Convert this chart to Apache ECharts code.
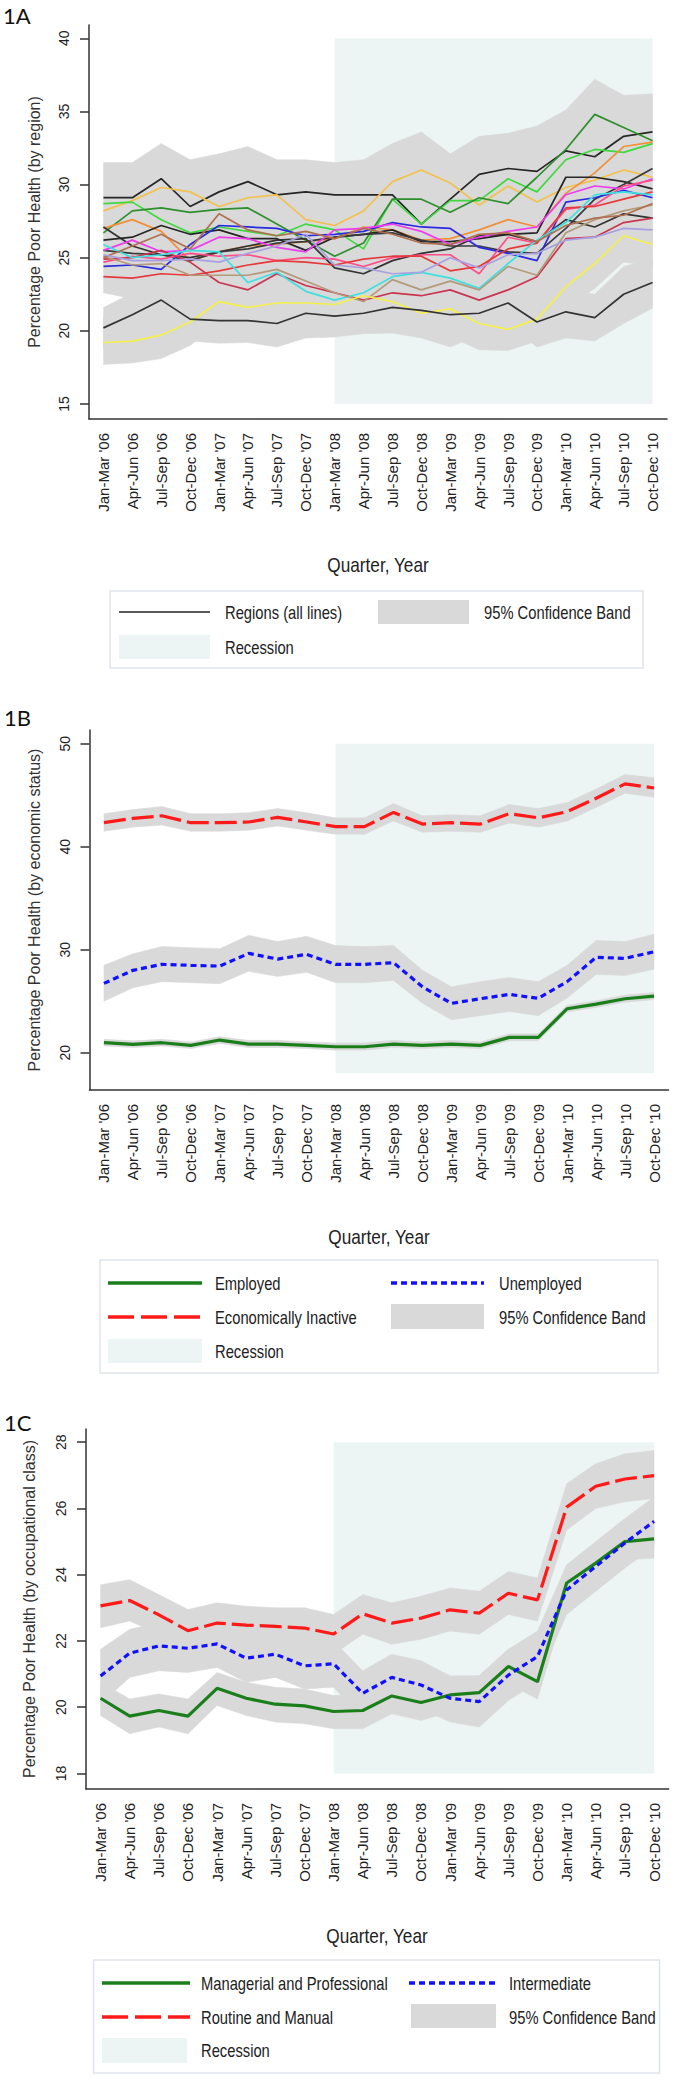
<!DOCTYPE html>
<html>
<head>
<meta charset="utf-8">
<script src="https://cdn.jsdelivr.net/npm/echarts@6/dist/echarts.min.js"></script>
<style>
html,body{margin:0;padding:0;background:#fff;}
#chart{width:679px;height:2081px;}
</style>
</head>
<body>
<div id="chart"></div>
<script>
// ---------- data ----------
const categories = ["Jan-Mar '06","Apr-Jun '06","Jul-Sep '06","Oct-Dec '06","Jan-Mar '07","Apr-Jun '07","Jul-Sep '07","Oct-Dec '07","Jan-Mar '08","Apr-Jun '08","Jul-Sep '08","Oct-Dec '08","Jan-Mar '09","Apr-Jun '09","Jul-Sep '09","Oct-Dec '09","Jan-Mar '10","Apr-Jun '10","Jul-Sep '10","Oct-Dec '10"];
const recessionStart = "Jan-Mar '08";
const recessionEnd = "Oct-Dec '10";

const ticksA = [15,20,25,30,35,40];
const ticksB = [20,30,40,50];
const ticksC = [18,20,22,24,26,28];

// 1A region lines
const regBlackTop   = [29.1,29.1,30.4,28.5,29.5,30.2,29.3,29.5,29.3,29.3,29.3,27.3,29.0,30.7,31.1,30.9,32.3,31.9,33.3,33.6];
const regGold       = [28.2,28.9,29.8,29.5,28.5,29.1,29.3,27.6,27.2,28.2,30.2,31.0,30.1,28.6,29.9,28.8,29.8,30.3,31.0,30.5];
const regLime       = [28.7,28.8,27.6,26.7,27.1,26.8,26.5,27.3,26.9,25.6,29.0,27.3,28.9,28.9,30.4,29.5,31.7,32.4,32.2,32.8];
const regDarkGreen  = [26.7,28.2,28.4,28.1,28.3,28.4,27.3,26.2,25.1,26.0,29.0,29.0,28.1,29.1,28.7,30.5,32.4,34.8,33.9,33.0];
const regOrange     = [27.0,27.6,26.8,24.8,25.4,25.8,25.9,26.1,26.3,27.1,26.9,26.2,26.3,26.9,27.6,27.1,29.4,30.8,32.6,32.9];
const regBlackB     = [27.1,25.8,25.2,25.0,25.4,25.8,26.2,26.3,24.3,23.9,24.8,25.3,25.6,26.5,26.6,26.1,27.6,27.1,28.0,27.7];
const regBlackC     = [26.2,26.4,27.2,26.6,26.9,26.3,26.3,25.5,26.4,26.6,26.9,26.1,26.1,26.3,26.6,26.7,30.5,30.5,30.2,29.7];
const regBlackE     = [25.5,25.3,25.2,24.8,25.4,25.6,26.0,26.1,26.4,26.6,26.7,26.2,25.8,25.8,25.4,25.3,27.0,29.0,30.0,31.1];
const regBlue       = [24.4,24.5,24.2,25.9,27.2,27.1,27.0,26.5,26.6,26.8,27.4,27.1,27.0,25.7,25.3,24.8,28.8,29.1,29.6,29.1];
const regMagenta    = [25.5,26.2,25.4,25.5,26.4,26.3,25.7,25.4,26.9,27.0,27.3,26.8,25.9,26.4,26.8,27.1,29.3,29.9,29.7,30.4];
const regPink       = [24.7,25.1,24.9,25.3,25.1,25.2,24.8,25.0,24.9,24.4,25.0,25.2,25.2,23.9,26.4,26.0,28.3,28.6,29.9,30.3];
const regRed        = [23.7,23.6,23.9,23.8,24.1,24.5,24.8,24.7,24.5,24.9,25.1,25.1,24.1,24.4,25.6,26.0,28.4,28.5,29.0,29.5];
const regCrimson    = [24.9,25.0,25.5,24.7,23.3,22.8,23.9,23.1,22.6,22.1,22.6,22.4,22.8,22.1,22.8,23.7,26.3,26.4,27.4,27.7];
const regCyan       = [25.9,25.0,25.2,25.5,25.4,23.3,24.0,22.7,22.1,22.6,23.7,24.0,23.6,22.9,24.6,26.2,27.4,29.3,29.5,29.3];
const regTan        = [25.1,24.5,24.6,23.8,23.8,23.8,24.2,23.4,22.6,22.0,23.5,22.8,23.4,22.8,24.4,23.8,26.7,27.6,28.2,28.6];
const regSienna     = [25.0,25.8,26.6,25.6,28.0,26.9,26.5,26.8,26.3,27.0,26.6,26.0,25.9,26.6,26.7,26.1,27.2,27.7,27.9,28.7];
const regLavender   = [25.2,24.8,24.8,24.9,24.7,25.3,25.8,26.6,24.5,24.3,23.9,24.0,25.0,24.3,25.2,25.3,26.2,26.4,27.0,26.9];
const regYellow     = [19.2,19.3,19.7,20.6,22.0,21.6,21.9,21.9,21.8,22.4,22.0,21.2,21.5,20.5,20.1,20.8,23.0,24.6,26.5,25.9];
const regBlackLow   = [20.2,21.1,22.1,20.8,20.7,20.7,20.5,21.2,21.0,21.2,21.6,21.4,21.1,21.2,21.9,20.6,21.3,20.9,22.5,23.3];

// 1A confidence bands (main cluster, yellow region, lowest black region)
const bandMainUpper = [31.5,31.5,32.8,31.7,32.1,32.6,31.7,31.7,31.5,31.7,32.8,33.6,32.1,33.3,33.5,34.0,35.1,37.2,36.1,36.2];
const bandMainLower = [22.6,22.2,22.2,22.3,21.8,21.4,22.2,21.3,20.7,20.6,21.2,21.0,21.3,20.7,21.3,22.0,24.0,24.9,25.8,26.0];
const bandYelUpper  = [20.9,21.0,21.4,22.2,23.5,23.1,23.4,23.4,23.3,23.9,23.5,22.7,23.0,22.0,21.6,22.3,24.5,26.1,28.0,27.4];
const bandYelLower  = [17.7,17.8,18.1,19.0,20.5,20.1,20.4,20.4,20.3,20.9,20.5,19.7,19.6,18.7,18.65,19.3,21.6,22.9,24.7,24.4];
const bandBlkUpper  = [21.6,22.6,23.7,22.3,22.2,22.2,22.0,22.7,22.5,22.7,23.1,22.9,22.6,22.7,23.4,22.1,22.9,22.5,24.4,24.9];
const bandBlkLower  = [18.8,19.6,20.5,19.3,19.15,19.2,18.9,19.5,19.57,19.8,19.85,19.5,18.9,19.7,20.4,18.9,19.5,19.3,20.5,21.55];

// 1B economic status
const employed      = [20.97,20.81,20.97,20.71,21.23,20.84,20.84,20.71,20.58,20.58,20.84,20.71,20.84,20.71,21.49,21.49,24.27,24.72,25.24,25.5];
const employedUp    = [21.3,21.15,21.3,21.05,21.55,21.2,21.2,21.05,20.95,20.95,21.2,21.05,21.2,21.05,21.85,21.85,24.6,25.05,25.6,25.85];
const employedLo    = [20.65,20.5,20.65,20.4,20.9,20.5,20.5,20.4,20.25,20.25,20.5,20.4,20.5,20.4,21.15,21.15,23.95,24.4,24.9,25.15];
const unemployed    = [26.73,28.0,28.58,28.48,28.41,29.64,29.09,29.55,28.58,28.58,28.74,26.4,24.79,25.24,25.66,25.28,26.9,29.26,29.16,29.8];
const unemployedUp  = [28.5,29.6,30.3,30.2,30.1,31.4,30.8,31.3,30.4,30.3,30.4,28.0,26.4,26.9,27.3,26.9,28.5,30.9,30.8,31.5];
const unemployedLo  = [25.0,26.3,26.9,26.8,26.7,27.9,27.4,27.8,26.8,26.8,27.0,24.8,23.2,23.6,24.0,23.6,25.3,27.6,27.5,28.1];
const inactive      = [42.33,42.75,43.0,42.33,42.33,42.4,42.85,42.4,41.95,41.95,43.33,42.2,42.33,42.2,43.2,42.8,43.4,44.7,46.1,45.7];
const inactiveUp    = [43.2,43.6,43.9,43.2,43.2,43.3,43.7,43.3,42.8,42.8,44.2,43.0,43.1,43.0,44.1,43.7,44.3,45.6,47.0,46.7];
const inactiveLo    = [41.5,41.9,42.1,41.5,41.5,41.6,42.0,41.6,41.2,41.2,42.5,41.4,41.5,41.4,42.3,41.9,42.5,43.8,45.2,44.8];

// 1C occupational class
const managerial    = [20.27,19.73,19.9,19.73,20.57,20.27,20.09,20.04,19.87,19.9,20.34,20.14,20.37,20.44,21.23,20.77,23.75,24.35,25.0,25.08];
const managerialUp  = [20.75,20.25,20.4,20.25,21.05,20.75,20.6,20.55,20.35,20.4,20.85,20.65,20.85,20.95,21.75,21.3,24.3,24.9,25.55,25.65];
const managerialLo  = [19.75,19.2,19.4,19.2,20.05,19.75,19.55,19.5,19.35,19.35,19.8,19.6,19.85,19.9,20.7,20.25,23.2,23.8,24.45,24.5];
const intermediate  = [20.94,21.63,21.85,21.78,21.91,21.48,21.6,21.25,21.31,20.42,20.9,20.67,20.27,20.17,20.97,21.53,23.54,24.25,24.96,25.61];
const intermediateUp= [21.75,22.35,22.55,22.45,22.6,22.15,22.3,21.95,22.0,21.1,21.6,21.4,20.95,20.95,21.75,22.3,24.3,25.0,25.7,26.35];
const intermediateLo= [20.1,20.9,21.1,21.05,21.2,20.75,20.9,20.55,20.6,19.7,20.2,19.95,19.55,19.4,20.2,20.75,22.8,23.5,24.2,24.85];
const routine       = [23.06,23.22,22.79,22.31,22.54,22.48,22.44,22.39,22.21,22.82,22.54,22.69,22.94,22.84,23.44,23.24,26.04,26.67,26.89,26.99];
const routineUp     = [23.7,23.85,23.4,22.95,23.15,23.05,23.0,23.0,22.8,23.4,23.15,23.35,23.6,23.5,24.1,23.9,26.75,27.35,27.65,27.75];
const routineLo     = [22.4,22.6,22.2,21.7,21.95,21.9,21.9,21.8,21.6,22.2,21.9,22.05,22.3,22.2,22.8,22.6,25.35,26.0,26.2,26.3];

// ---------- styling ----------
const BAND = '#d9d9d9';
const RECESS = '#edf4f4';
const AXIS = '#333';
const ARIAL = "'Liberation Sans',Arial,sans-serif";
const NARROW_SCALE = 0.82;

const regionLines = [
  [regBlackTop,'#262626'],[regGold,'#f2c14e'],[regLime,'#3fd93f'],[regDarkGreen,'#2f8f2f'],
  [regOrange,'#f0903a'],[regBlackB,'#333333'],[regBlackC,'#262626'],[regBlackE,'#3a3a3a'],
  [regBlue,'#2a2ae0'],[regMagenta,'#ee3cee'],[regPink,'#ff4d88'],[regRed,'#e5393a'],
  [regCrimson,'#c8364f'],[regCyan,'#3ee0e0'],[regTan,'#b39a7a'],[regSienna,'#b07050'],
  [regLavender,'#a8a0e0'],[regYellow,'#f4ef4a'],[regBlackLow,'#333333']
];

function band(gi, lo, hi) {
  return {
    type: 'custom', xAxisIndex: gi, yAxisIndex: gi, z: 3, silent: true,
    data: lo.map((v, i) => [i, v, hi[i]]),
    encode: {x: 0, y: [1, 2]},
    renderItem: function (params, api) {
      if (params.dataIndex !== 0) return null;
      const pts = [];
      for (let i = 0; i < hi.length; i++) pts.push(api.coord([i, hi[i]]));
      for (let i = lo.length - 1; i >= 0; i--) pts.push(api.coord([i, lo[i]]));
      return {type: 'polygon', shape: {points: pts}, style: {fill: BAND, stroke: BAND, lineWidth: 0.5}};
    }
  };
}
function line(gi, data, color, width, dash) {
  return {
    type: 'line', xAxisIndex: gi, yAxisIndex: gi, z: 5, silent: true,
    data: data, symbol: 'none', showSymbol: false,
    lineStyle: {color: color, width: width, type: dash || 'solid', cap: 'butt'}
  };
}
function recession(gi, y0, y1) {
  return {
    type: 'line', xAxisIndex: gi, yAxisIndex: gi, z: 1, silent: true,
    data: [], symbol: 'none',
    markArea: {silent: true, itemStyle: {color: RECESS}, data: [[{xAxis: recessionStart, yAxis: y0}, {xAxis: recessionEnd, yAxis: y1}]]}
  };
}
function xAxis(gi) {
  return {
    gridIndex: gi, type: 'category', data: categories, boundaryGap: true,
    axisLine: {lineStyle: {color: AXIS, width: 1.5}},
    axisTick: {alignWithLabel: true, length: 9, lineStyle: {color: AXIS, width: 1.5}},
    axisLabel: {rotate: 90, margin: 14, interval: 0, fontSize: 15, color: '#222', fontFamily: ARIAL},
    splitLine: {show: false}
  };
}
function yAxis(gi, min, max, ticks, name, gap) {
  return {
    gridIndex: gi, type: 'value', min: min, max: max,
    axisLine: {show: true, lineStyle: {color: AXIS, width: 1.5}},
    axisTick: {show: true, length: 9, customValues: ticks, lineStyle: {color: AXIS, width: 1.5}},
    axisLabel: {customValues: ticks, rotate: 90, margin: 18, fontSize: 14, color: '#222', fontFamily: ARIAL},
    splitLine: {show: false},
    name: name, nameLocation: 'middle', nameRotate: 90, nameGap: gap,
    nameTextStyle: {fontSize: 16, color: '#333', fontFamily: ARIAL}
  };
}

// legend / title graphics (condensed text via horizontal scale)
function txt(x, y, s, size, align) {
  return {type: 'text', x: x, y: y, scaleX: NARROW_SCALE,
    style: {text: s, x: 0, y: 0, fill: '#222', font: (size || 18) + 'px ' + ARIAL, verticalAlign: 'middle', align: align || 'left'}};
}
function box(x, y, w, h, c) {
  return {type: 'rect', shape: {x: x, y: y, width: w, height: h}, style: {fill: c}};
}
function seg(x1, x2, y, c, w, dash) {
  return {type: 'line', shape: {x1: x1, y1: y, x2: x2, y2: y}, style: {stroke: c, lineWidth: w, lineDash: dash || null}};
}
function frame(x, y, w, h) {
  return {type: 'rect', shape: {x: x, y: y, width: w, height: h}, style: {fill: '#fff', stroke: '#dfe4ea', lineWidth: 1.5}};
}

const graphics = [
  // x-axis titles
  txt(378, 565, 'Quarter, Year', 21, 'center'),
  txt(379, 1237, 'Quarter, Year', 21, 'center'),
  txt(377, 1936, 'Quarter, Year', 21, 'center'),
  // 1A legend
  frame(110, 591, 533, 77),
  seg(119, 210, 612, '#222', 1.6), txt(225, 612, 'Regions (all lines)'),
  box(378, 600, 91, 24, BAND), txt(484, 612, '95% Confidence Band'),
  box(119, 635, 91, 24, RECESS), txt(225, 647, 'Recession'),
  // 1B legend
  frame(100, 1260, 558, 113),
  seg(108, 202, 1283, '#1a7f1a', 3.5), txt(215, 1283, 'Employed'),
  seg(391, 484, 1283, '#1010ff', 3.5, [6, 4]), txt(499, 1283, 'Unemployed'),
  seg(108, 202, 1317, '#ff1a1a', 3.5, [26, 7]), txt(215, 1317, 'Economically Inactive'),
  box(391, 1304, 93, 25, BAND), txt(499, 1317, '95% Confidence Band'),
  box(108, 1339, 94, 24, RECESS), txt(215, 1351, 'Recession'),
  // 1C legend
  frame(93.5, 1960, 566, 113),
  seg(102, 190, 1983, '#1a7f1a', 3.5), txt(201, 1983, 'Managerial and Professional'),
  seg(409, 499, 1983, '#1010ff', 3.5, [6, 4]), txt(509, 1983, 'Intermediate'),
  seg(102, 190, 2017, '#ff1a1a', 3.5, [26, 7]), txt(201, 2017, 'Routine and Manual'),
  box(411, 2004, 85, 24, BAND), txt(509, 2017, '95% Confidence Band'),
  box(102, 2038, 85, 25, RECESS), txt(201, 2050, 'Recession')
];

const series = [
  recession(0, 15, 40),
  band(0, bandMainLower, bandMainUpper),
  band(0, bandYelLower, bandYelUpper),
  band(0, bandBlkLower, bandBlkUpper)
];
regionLines.forEach(r => series.push(line(0, r[0], r[1], 1.7)));

series.push(recession(1, 18, 50));
series.push(band(1, employedLo, employedUp));
series.push(band(1, unemployedLo, unemployedUp));
series.push(band(1, inactiveLo, inactiveUp));
series.push(line(1, employed, '#1a7f1a', 3.2));
series.push(line(1, unemployed, '#1010ff', 3.2, [6, 4]));
series.push(line(1, inactive, '#ff1a1a', 3.2, [22, 6]));

series.push(recession(2, 18, 28));
series.push(band(2, managerialLo, managerialUp));
series.push(band(2, intermediateLo, intermediateUp));
series.push(band(2, routineLo, routineUp));
series.push(line(2, managerial, '#1a7f1a', 3.2));
series.push(line(2, intermediate, '#1010ff', 3.2, [6, 4]));
series.push(line(2, routine, '#ff1a1a', 3.2, [22, 6]));

const chart = echarts.init(document.getElementById('chart'), null, {renderer: 'svg', width: 679, height: 2081});
chart.setOption({
  animation: false,
  backgroundColor: '#fff',
  title: [
    {text: '1A', left: 3, top: 4, padding: 0, textStyle: {fontSize: 22, fontWeight: 'normal', color: '#111', fontFamily: 'Lato'}},
    {text: '1B', left: 4, top: 706, padding: 0, textStyle: {fontSize: 22, fontWeight: 'normal', color: '#111', fontFamily: 'Lato'}},
    {text: '1C', left: 4, top: 1411, padding: 0, textStyle: {fontSize: 22, fontWeight: 'normal', color: '#111', fontFamily: 'Lato'}}
  ],
  grid: [
    {left: 89, top: 25, width: 578, height: 394},
    {left: 89.5, top: 730, width: 579, height: 360},
    {left: 86, top: 1429, width: 582.6, height: 360}
  ],
  xAxis: [xAxis(0), xAxis(1), xAxis(2)],
  yAxis: [
    yAxis(0, 13.97, 40.91, ticksA, 'Percentage Poor Health (by region)', 47),
    yAxis(1, 16.38, 51.33, ticksB, 'Percentage Poor Health (by economic status)', 47),
    yAxis(2, 17.53, 28.4, ticksC, 'Percentage Poor Health (by occupational class)', 49)
  ],
  series: series,
  graphic: graphics
});
</script>
</body>
</html>
